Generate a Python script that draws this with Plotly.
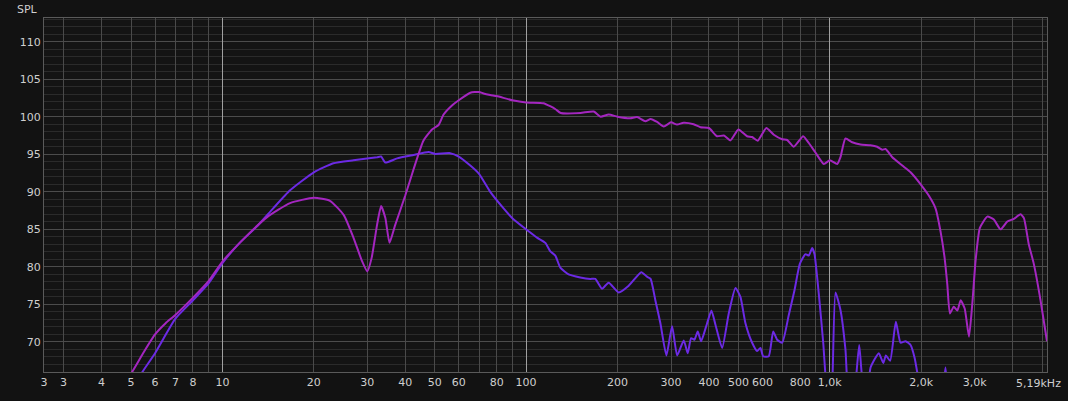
import plotly.graph_objects as go

# frequency response, two measurements (Hz, dB SPL)
freq_a = [4.6, 5.04, 5.5, 6.0, 6.5, 7.0, 8.0, 9.0, 10.0, 11.4, 14.0, 16.7, 20.0, 22.6, 25.1, 27.0,
          28.8, 30.0, 31.0, 32.3, 33.3, 34.4, 35.5, 37.0, 40.0, 42.6, 45.9, 49.0, 51.5, 53.5, 57.0,
          60.0, 65.5, 70.0, 72.4, 76.2, 80.0, 90.0, 100.0, 114.0, 120.0, 125.0, 130.0, 151.0, 167.0,
          176.0, 187.0, 200.0, 220.0, 232.0, 247.0, 257.0, 270.0, 284.0, 300.0, 314.0, 330.0, 356.0,
          375.0, 400.0, 425.0, 448.0, 471.0, 500.0, 534.0, 555.0, 579.0, 618.0, 654.0, 697.0, 724.0,
          761.0, 817.0, 853.0, 898.0, 956.0, 1000.0, 1058.0, 1084.0, 1126.0, 1185.0, 1262.0, 1361.0,
          1432.0, 1488.0, 1526.0, 1606.0, 1732.0, 1845.0, 2000.0, 2118.0, 2229.0, 2316.0, 2388.0,
          2437.0, 2486.0, 2560.0, 2630.0, 2697.0, 2781.0, 2873.0, 2946.0, 3020.0, 3120.0, 3302.0,
          3469.0, 3650.0, 3842.0, 4036.0, 4246.0, 4357.0, 4521.0, 4696.0, 4942.0, 5190.0]
spl_a = [64.0, 66.0, 68.6, 71.0, 72.5, 73.6, 75.9, 78.1, 80.7, 83.2, 86.6, 88.5, 89.2, 88.8, 86.9, 83.9,
         80.8, 79.4, 81.2, 85.6, 88.1, 86.5, 83.2, 85.5, 89.5, 93.0, 96.8, 98.3, 98.9, 100.3, 101.5,
         102.2, 103.2, 103.3, 103.1, 102.9, 102.75, 102.2, 101.9, 101.8, 101.4, 101.0, 100.5, 100.5, 100.7,
         100.0, 100.3, 100.0, 99.8, 99.95, 99.4, 99.7, 99.3, 98.7, 99.25, 98.95, 99.2, 99.0,
         98.6, 98.5, 97.4, 97.5, 96.85, 98.3, 97.4, 97.3, 96.8, 98.5, 97.6, 97.0, 96.9,
         96.0, 97.4, 96.5, 95.2, 93.7, 94.2, 93.7, 94.6, 97.1, 96.6, 96.3, 96.2,
         96.0, 95.6, 95.7, 94.6, 93.5, 92.6, 90.9, 89.5, 87.8, 84.7, 81.2,
         77.7, 73.8, 74.7, 74.2, 75.55, 74.45, 70.7, 75.1, 80.8, 85.2, 86.7,
         86.3, 85.0, 86.05, 86.4, 87.0, 86.5, 83.0, 80.4, 75.55, 70.1]

freq_b = [5.0, 5.45, 6.0, 7.0, 8.0, 9.0, 10.0, 11.4, 13.0, 14.7, 16.7, 20.0, 23.2, 27.0, 32.3, 33.3,
          34.4, 37.6, 42.6, 47.7, 50.2, 56.2, 60.0, 65.5, 70.0, 76.2, 84.3, 91.0, 100.0, 108.6, 115.7,
          120.0, 124.8, 129.6, 138.0, 150.8, 162.7, 169.0, 177.8, 187.0, 201.8, 217.7, 239.6, 250.0,
          257.0, 266.6, 276.8, 289.7, 302.5, 314.3, 330.4, 340.5, 349.4, 358.3, 367.4, 376.9, 394.5,
          407.6, 420.2, 442.1, 464.8, 489.0, 507.8, 527.5, 555.0, 576.5, 591.1, 603.4, 629.5, 651.0,
          671.1, 697.0, 732.8, 765.2, 796.7, 831.8, 852.9, 874.9, 890.4, 920.0, 951.3, 985.0, 1010.0,
          1022.0, 1044.0, 1085.0, 1126.0, 1160.0, 1200.0, 1225.0, 1250.0, 1290.0, 1330.0, 1362.0,
          1450.0, 1500.0, 1530.0, 1580.0, 1650.0, 1710.0, 1776.0, 1845.0, 1902.0, 1980.0, 2100.0,
          2350.0, 2405.0, 2460.0]
spl_b = [63.5, 66.0, 68.5, 73.1, 75.55, 77.8, 80.5, 83.2, 85.4, 87.8, 90.2, 92.6, 93.8, 94.2, 94.6, 94.7,
         93.9, 94.45, 94.9, 95.3, 95.05, 95.15, 94.7, 93.5, 92.4, 90.0, 87.8, 86.3, 85.0, 83.9, 83.2,
         82.1, 81.5, 79.9, 79.0, 78.6, 78.4, 78.4, 77.1, 77.9, 76.6, 77.5, 79.3, 78.7,
         78.4, 75.5, 72.5, 68.2, 72.1, 68.2, 70.2, 68.5, 70.5, 70.3, 71.4, 70.1, 72.5,
         74.2, 72.3, 69.2, 73.8, 77.2, 76.0, 72.5, 69.9, 68.8, 69.2, 68.1, 68.1, 71.4,
         70.3, 69.9, 73.6, 76.9, 80.4, 81.7, 81.5, 82.5, 81.7, 76.4, 69.9, 62.0, 61.0,
         66.0, 76.6, 74.2, 69.0, 62.0, 62.0, 66.0, 69.6, 64.0, 63.5, 66.6,
         68.5, 67.2, 68.2, 67.5, 72.7, 69.9, 70.1, 69.6, 67.9, 64.0, 60.0,
         63.0, 66.6, 62.0]

x_ticks = [2.585, 3, 4, 5, 6, 7, 8, 9, 10, 20, 30, 40, 50, 60, 70, 80, 90, 100, 200, 300, 400, 500,
           600, 700, 800, 900, 1000, 2000, 3000, 4000, 5000, 5190]
x_labels = ["3", "3", "4", "5", "6", "7", "8", "", "10", "20", "30", "40", "50", "60", "", "80", "",
            "100", "200", "300", "400", "500", "600", "", "800", "", "1,0k", "2,0k", "3,0k", "", "", ""]
decades = [10, 100, 1000]
y_ticks = [70, 75, 80, 85, 90, 95, 100, 105, 110]

txt = "#cfcfcf"
font = "DejaVu Sans, Verdana, sans-serif"

fig = go.Figure()
fig.add_trace(go.Scatter(x=freq_b, y=spl_b, mode="lines",
                         line=dict(color="#6c2ae4", width=2, shape="spline", smoothing=0.5),
                         showlegend=False))
fig.add_trace(go.Scatter(x=freq_a, y=spl_a, mode="lines",
                         line=dict(color="#a426c0", width=2, shape="spline", smoothing=0.5),
                         showlegend=False))

fig.update_layout(
    width=1068, height=401,
    margin=dict(l=44, r=21, t=18, b=25),
    paper_bgcolor="#121212", plot_bgcolor="#141414",
    font=dict(family=font, size=11, color=txt),
    xaxis=dict(type="log", range=[0.4125, 3.7152], tickmode="array", tickvals=x_ticks,
               ticktext=x_labels, showgrid=True, gridcolor="#4a4a4a", gridwidth=1,
               showline=True, linecolor="#5a5a5a", mirror=True, ticks="", zeroline=False,
               tickfont=dict(size=11, color=txt)),
    xaxis2=dict(type="log", range=[0.4125, 3.7152], overlaying="x", tickmode="array",
                tickvals=decades, showticklabels=False, showgrid=True, gridcolor="#a0a0a0",
                gridwidth=1, ticks="", zeroline=False),
    yaxis=dict(range=[66.0, 113.15], tickmode="array", tickvals=y_ticks, showgrid=True,
               gridcolor="#4c4c4c", gridwidth=1, zeroline=False, ticks="",
               showline=True, linecolor="#5a5a5a", mirror=True,
               minor=dict(dtick=1, showgrid=True, gridcolor="#2b2b2b", gridwidth=1),
               tickfont=dict(size=11, color=txt)),
    annotations=[
        dict(text="SPL", xref="paper", yref="paper", x=0, y=1, xanchor="right", yanchor="bottom",
             xshift=-4, yshift=0, showarrow=False, font=dict(size=11, color=txt)),
        dict(text="5,19kHz", xref="paper", yref="paper", x=1, y=0, xanchor="right", yanchor="top",
             xshift=16, yshift=-3, showarrow=False, font=dict(size=11, color=txt)),
    ],
)
# dummy trace so the decade grid axis is drawn
fig.add_trace(go.Scatter(x=[10], y=[None], xaxis="x2", showlegend=False, hoverinfo="skip"))

fig.write_html("out.html", config={"displayModeBar": False},
               post_script="document.body.style.margin='0';document.body.style.overflow='hidden';")
